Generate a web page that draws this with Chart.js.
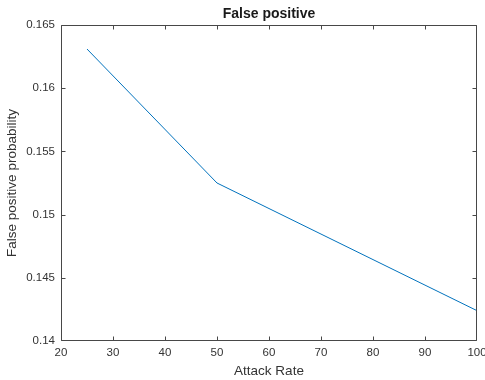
<!DOCTYPE html>
<html>
<head>
<meta charset="utf-8">
<title>False positive</title>
<script src="https://cdn.jsdelivr.net/npm/chart.js@4.4.1/dist/chart.umd.min.js"></script>
<style>
  html, body { margin: 0; padding: 0; background: #fff; }
  canvas { display: block; }
</style>
</head>
<body>
<canvas id="fpChart" width="485" height="380"></canvas>
<script>
// attack rate (%) and the false positive probability at each rate
const attackRate = [25, 50, 100];
const falsePositive = [0.1631, 0.1525, 0.1424];

const xTicks = [20, 30, 40, 50, 60, 70, 80, 90, 100];
const yTicks = [0.14, 0.145, 0.15, 0.155, 0.16, 0.165];

const axisColor = '#484848';
const textColor = '#333333';

Chart.defaults.font.family = '"Liberation Sans", Arial, Helvetica, sans-serif';

// box round the plot, with short ticks pointing inwards on every side
const boxPlugin = {
    id: 'boxPlugin',
    afterDraw(chart) {
        const { ctx, chartArea: a, scales } = chart;
        const l = a.left + 0.5, r = a.right - 0.5, t = a.top + 0.5, b = a.bottom - 0.5;
        const len = 4;
        ctx.save();
        ctx.strokeStyle = axisColor;
        ctx.lineWidth = 1;
        ctx.beginPath();
        ctx.rect(l, t, r - l, b - t);
        scales.x.ticks.forEach(tk => {
            const px = Math.min(Math.round(scales.x.getPixelForValue(tk.value)) + 0.5, r);
            ctx.moveTo(px, b); ctx.lineTo(px, b - len);
            ctx.moveTo(px, t); ctx.lineTo(px, t + len);
        });
        scales.y.ticks.forEach(tk => {
            const py = Math.min(Math.round(scales.y.getPixelForValue(tk.value)) + 0.5, b);
            ctx.moveTo(l, py); ctx.lineTo(l + len, py);
            ctx.moveTo(r, py); ctx.lineTo(r - len, py);
        });
        ctx.stroke();
        ctx.restore();
    }
};

new Chart(document.getElementById('fpChart'), {
    type: 'line',
    data: {
        datasets: [{
            data: attackRate.map((x, i) => ({ x: x, y: falsePositive[i] })),
            borderColor: '#0072BD',
            borderWidth: 1,
            pointRadius: 0,
            tension: 0,
            fill: false
        }]
    },
    options: {
        responsive: false,
        animation: false,
        devicePixelRatio: 1,
        layout: { padding: { left: 0, right: 8, top: 0, bottom: 0 } },
        plugins: {
            legend: { display: false },
            tooltip: { enabled: false },
            title: {
                display: true,
                fullSize: false,
                text: 'False positive',
                color: '#1a1a1a',
                font: { size: 14, weight: 'bold' },
                padding: { top: 6, bottom: 2.2 }
            }
        },
        scales: {
            x: {
                type: 'linear',
                min: 20,
                max: 100,
                grid: { display: false, drawTicks: false },
                border: { display: false },
                ticks: {
                    color: textColor,
                    font: { size: 11.5 },
                    padding: 5,
                    maxRotation: 0,
                    autoSkip: false
                },
                afterBuildTicks: s => { s.ticks = xTicks.map(v => ({ value: v })); },
                afterFit: s => { s.height = 39; s.paddingLeft = 0; s.paddingRight = 0; },
                title: {
                    display: true,
                    text: 'Attack Rate',
                    color: textColor,
                    font: { size: 13.5 },
                    padding: { top: 0, bottom: 1 }
                }
            },
            y: {
                type: 'linear',
                min: 0.14,
                max: 0.165,
                grid: { display: false, drawTicks: false },
                border: { display: false },
                ticks: {
                    color: textColor,
                    font: { size: 11.5 },
                    padding: 6,
                    autoSkip: false,
                    callback: v => String(+v.toFixed(3))
                },
                afterBuildTicks: s => { s.ticks = yTicks.map(v => ({ value: v })); },
                afterFit: s => { s.width = 61; s.paddingTop = 0; s.paddingBottom = 0; },
                title: {
                    display: true,
                    text: 'False positive probability',
                    color: textColor,
                    font: { size: 13.5 },
                    padding: { top: 4, bottom: 0 }
                }
            }
        }
    },
    plugins: [boxPlugin]
});
</script>
</body>
</html>
